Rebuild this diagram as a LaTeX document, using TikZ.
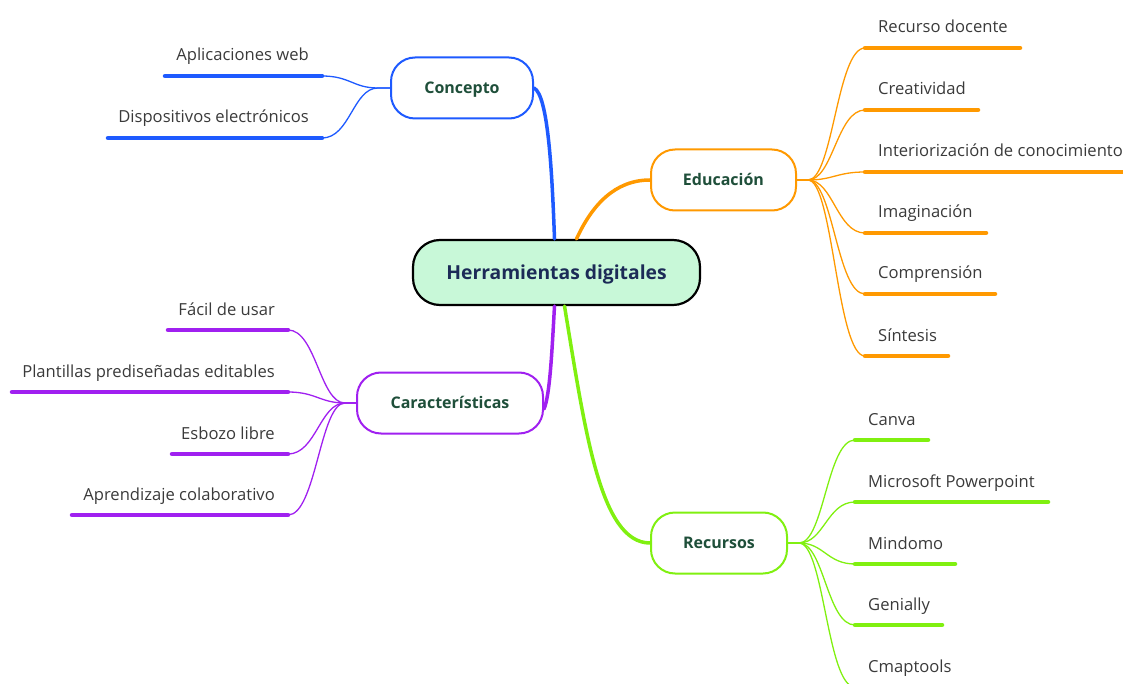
\documentclass[tikz,border=0pt]{standalone}
\usepackage{fontspec}
\setmainfont{Open Sans}
\definecolor{cblue}{RGB}{30,90,255}
\definecolor{corange}{RGB}{255,153,0}
\definecolor{cpurple}{RGB}{160,32,240}
\definecolor{cgreen}{RGB}{128,240,16}
\definecolor{mint}{RGB}{200,248,216}
\definecolor{navy}{RGB}{28,43,87}
\definecolor{darkgreen}{RGB}{31,79,58}
\definecolor{leafgray}{RGB}{58,58,58}
\begin{document}
\begin{tikzpicture}[x=1pt,y=-1pt,
  root/.style={draw=black, line width=2.2pt, fill=mint, rounded corners=27pt,
    minimum width=287pt, minimum height=65pt, text=navy,
    text height=17pt, text depth=3pt,
    font=\bfseries\fontsize{19.3}{23}\selectfont},
  branch/.style={draw=#1, line width=2pt, fill=white, rounded corners=24pt,
    minimum height=61pt, text=darkgreen, text height=14pt, text depth=2.5pt,
    font=\bfseries\fontsize{16}{19}\selectfont},
  leaf/.style={text=leafgray, inner sep=0pt, font=\fontsize{16.6}{20}\selectfont},
  trunk/.style={draw=#1, line width=3.5pt, line cap=round},
  twig/.style={draw=#1, line width=1.3pt},
  underline/.style={draw=#1, line width=4.5pt, line cap=round}
]
\useasboundingbox (0,0) rectangle (1123,684);

% central topic and main branches
\node[root] (main) at (556.5,272.5) {Herramientas digitales};
\node[branch=cblue, minimum width=142pt] (con) at (462,88) {Concepto};
\node[branch=corange, minimum width=145pt] (edu) at (723.5,180) {Educación};
\node[branch=cpurple, minimum width=186pt] (car) at (450,403) {Características};
\node[branch=cgreen, minimum width=136pt] (rec) at (719,543) {Recursos};

% hubs where the leaf connectors gather
\coordinate (conhub) at (378,88);
\coordinate (eduhub) at (808,180);
\coordinate (carhub) at (345,403);
\coordinate (rechub) at (799,543);

% trunks from the central topic
\draw[trunk=cblue] ([xshift=-2pt]main.north) .. controls (552,170) and (548,95) .. (con.east);
\draw[trunk=corange] ([xshift=20pt]main.north) .. controls (592,205) and (615,180) .. (edu.west);
\draw[trunk=cpurple] ([xshift=-2pt]main.south) .. controls (552,350) and (550,395) .. ([yshift=-6pt]car.east);
\draw[trunk=cgreen] ([xshift=8pt]main.south) .. controls (585,430) and (600,543) .. (rec.west);

% Concepto leaves
\coordinate (c1a) at (165,76);  \coordinate (c1b) at (322,76);
\coordinate (c2a) at (108,138); \coordinate (c2b) at (322,138);
\node[leaf, anchor=base east] (c1t) at (309,61) {Aplicaciones web};
\node[leaf, anchor=base east] (c2t) at (309,123) {Dispositivos electrónicos};
\foreach \p in {c1,c2} {
  \draw[underline=cblue] (\p a) -- (\p b);
  \draw[twig=cblue] (\p b) .. controls +(28,0) and +(-25,0) .. (conhub) -- (con.west);
}

% Educación leaves
\coordinate (e1a) at (865,48);  \coordinate (e1b) at (1020,48);
\coordinate (e2a) at (865,110); \coordinate (e2b) at (978,110);
\coordinate (e3a) at (865,172); \coordinate (e3b) at (1130,172);
\coordinate (e4a) at (865,233); \coordinate (e4b) at (986,233);
\coordinate (e5a) at (865,294); \coordinate (e5b) at (995,294);
\coordinate (e6a) at (865,356); \coordinate (e6b) at (948,356);
\node[leaf, anchor=base west] (e1t) at (878,33) {Recurso docente};
\node[leaf, anchor=base west] (e2t) at (878,95) {Creatividad};
\node[leaf, anchor=base west] (e3t) at (878,157) {Interiorización de conocimiento};
\node[leaf, anchor=base west] (e4t) at (878,218) {Imaginación};
\node[leaf, anchor=base west] (e5t) at (878,279) {Comprensión};
\node[leaf, anchor=base west] (e6t) at (878,341) {Síntesis};
\foreach \p in {e1,e2,e3,e4,e5,e6} {
  \draw[underline=corange] (\p a) -- (\p b);
  \draw[twig=corange] (edu.east) -- (eduhub) .. controls +(25,0) and +(-28,0) .. (\p a);
}

% Características leaves
\coordinate (k1a) at (168,330); \coordinate (k1b) at (288,330);
\coordinate (k2a) at (12,392);  \coordinate (k2b) at (288,392);
\coordinate (k3a) at (172,454); \coordinate (k3b) at (288,454);
\coordinate (k4a) at (72,515);  \coordinate (k4b) at (288,515);
\node[leaf, anchor=base east] (k1t) at (275,315) {Fácil de usar};
\node[leaf, anchor=base east] (k2t) at (275,377) {Plantillas prediseñadas editables};
\node[leaf, anchor=base east] (k3t) at (275,439) {Esbozo libre};
\node[leaf, anchor=base east] (k4t) at (275,500) {Aprendizaje colaborativo};
\foreach \p in {k1,k2,k3,k4} {
  \draw[underline=cpurple] (\p a) -- (\p b);
  \draw[twig=cpurple] (\p b) .. controls +(28,0) and +(-25,0) .. (carhub) -- (car.west);
}

% Recursos leaves
\coordinate (r1a) at (855,440); \coordinate (r1b) at (928,440);
\coordinate (r2a) at (855,502); \coordinate (r2b) at (1048,502);
\coordinate (r3a) at (855,564); \coordinate (r3b) at (955,564);
\coordinate (r4a) at (855,625); \coordinate (r4b) at (942,625);
\coordinate (r5a) at (855,687); \coordinate (r5b) at (950,687);
\node[leaf, anchor=base west] (r1t) at (868,425) {Canva};
\node[leaf, anchor=base west] (r2t) at (868,487) {Microsoft Powerpoint};
\node[leaf, anchor=base west] (r3t) at (868,549) {Mindomo};
\node[leaf, anchor=base west] (r4t) at (868,610) {Genially};
\node[leaf, anchor=base west] (r5t) at (868,672) {Cmaptools};
\foreach \p in {r1,r2,r3,r4,r5} {
  \draw[underline=cgreen] (\p a) -- (\p b);
  \draw[twig=cgreen] (rec.east) -- (rechub) .. controls +(25,0) and +(-28,0) .. (\p a);
}
\end{tikzpicture}
\end{document}
